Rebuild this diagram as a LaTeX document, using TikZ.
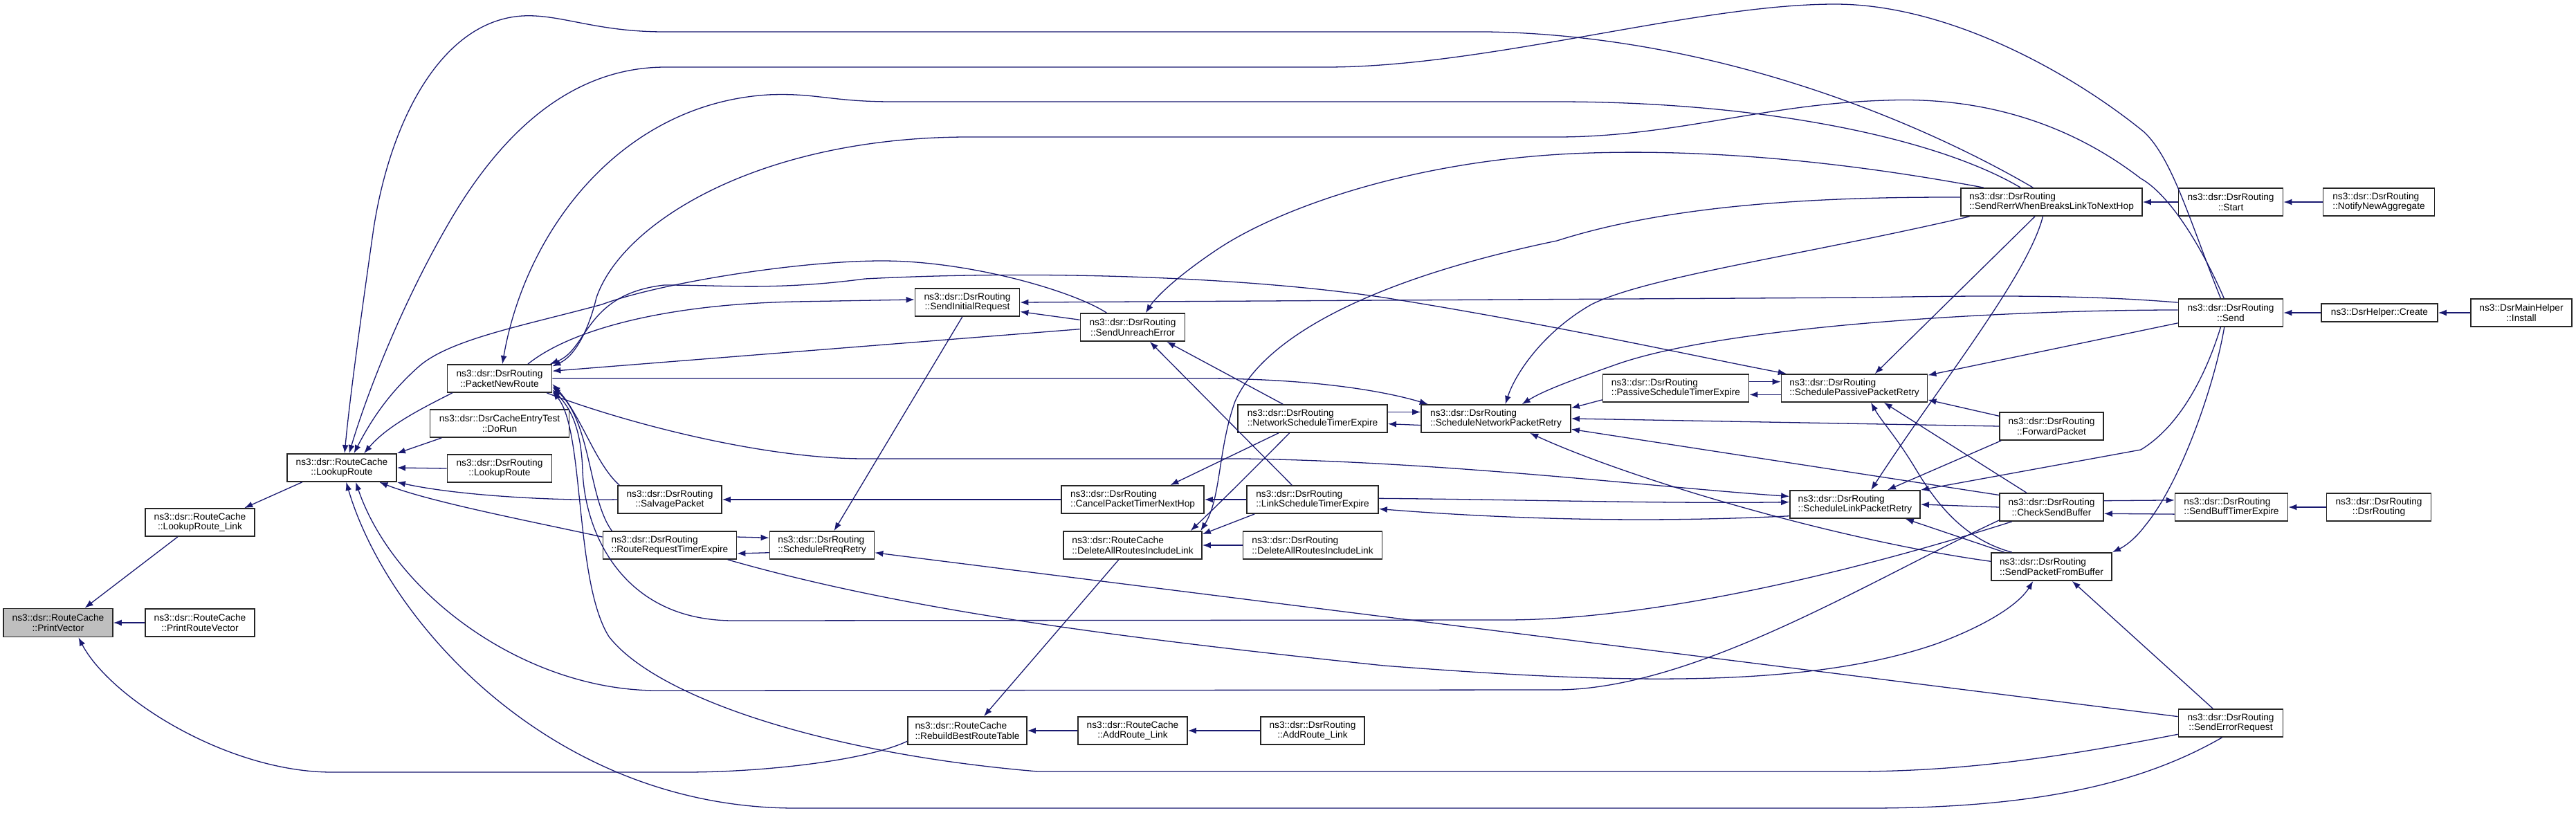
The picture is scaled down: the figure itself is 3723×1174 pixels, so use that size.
\documentclass[tikz,border=0pt]{standalone}
\usepackage{fontspec}
\setmainfont{Liberation Sans}
\usetikzlibrary{arrows.meta}
\definecolor{callblue}{HTML}{191970}
\definecolor{focusgray}{HTML}{BFBFBF}
\tikzset{>={Latex[length=0.36cm,width=0.27cm]},
  fn/.style={draw=black!85,line width=1.5pt,fill=white,minimum height=1.2cm,inner sep=0pt,align=center,font=\fontsize{11.7}{12.5}\selectfont},
  fnl/.style={fn,align=left},
  call/.style={->,draw=callblue,line width=1.1pt}}

\begin{document}
\begin{tikzpicture}[x=0.03cm,y=-0.03cm]
  \useasboundingbox (0,0) rectangle (3723,1174);
  % boxes
  \node[fn,fill=focusgray,minimum width=4.74cm,minimum height=1.23cm] (pv) at (84,900) {ns3::dsr::RouteCache\\::PrintVector};
  \node[fn,minimum width=4.74cm] (prv) at (289,900) {ns3::dsr::RouteCache\\::PrintRouteVector};
  \node[fn,minimum width=4.74cm] (lrl) at (289,755) {ns3::dsr::RouteCache\\::LookupRoute\_Link};
  \node[fn,minimum width=4.74cm] (lr) at (494,676) {ns3::dsr::RouteCache\\::LookupRoute};
  \node[fn,minimum width=4.53cm] (pnr) at (722,547) {ns3::dsr::DsrRouting\\::PacketNewRoute};
  \node[fn,minimum width=6.03cm] (dorun) at (722,612) {ns3::dsr::DsrCacheEntryTest\\::DoRun};
  \node[fn,minimum width=4.53cm] (dlr) at (722,677) {ns3::dsr::DsrRouting\\::LookupRoute};
  \node[fn,minimum width=4.5cm] (salv) at (968,722) {ns3::dsr::DsrRouting\\::SalvagePacket};
  \node[fnl,minimum width=5.79cm] (rrte) at (968,788) {ns3::dsr::DsrRouting\\::RouteRequestTimerExpire};
  \node[fnl,minimum width=4.53cm] (srr) at (1188,788) {ns3::dsr::DsrRouting\\::ScheduleRreqRetry};
  \node[fn,minimum width=4.53cm] (sir) at (1398,437) {ns3::dsr::DsrRouting\\::SendInitialRequest};
  \node[fnl,minimum width=5.16cm] (rbrt) at (1398,1056) {ns3::dsr::RouteCache\\::RebuildBestRouteTable};
  \node[fn,minimum width=4.53cm] (sue) at (1637,473) {ns3::dsr::DsrRouting\\::SendUnreachError};
  \node[fnl,minimum width=6.18cm] (cptnh) at (1637,722) {ns3::dsr::DsrRouting\\::CancelPacketTimerNextHop};
  \node[fnl,minimum width=6cm] (rcdel) at (1637,788) {ns3::dsr::RouteCache\\::DeleteAllRoutesIncludeLink};
  \node[fn,minimum width=4.74cm] (rcadd) at (1637,1056) {ns3::dsr::RouteCache\\::AddRoute\_Link};
  \node[fnl,minimum width=6.48cm] (nste) at (1897,605) {ns3::dsr::DsrRouting\\::NetworkScheduleTimerExpire};
  \node[fnl,minimum width=5.7cm] (lste) at (1897,722) {ns3::dsr::DsrRouting\\::LinkScheduleTimerExpire};
  \node[fnl,minimum width=6.03cm] (drdel) at (1897,788) {ns3::dsr::DsrRouting\\::DeleteAllRoutesIncludeLink};
  \node[fn,minimum width=4.5cm] (dradd) at (1897,1056) {ns3::dsr::DsrRouting\\::AddRoute\_Link};
  \node[fnl,minimum width=6.48cm] (snpr) at (2162,605) {ns3::dsr::DsrRouting\\::ScheduleNetworkPacketRetry};
  \node[fnl,minimum width=6.33cm] (pste) at (2422,561) {ns3::dsr::DsrRouting\\::PassiveScheduleTimerExpire};
  \node[fnl,minimum width=6.33cm] (sppr) at (2680,561) {ns3::dsr::DsrRouting\\::SchedulePassivePacketRetry};
  \node[fnl,minimum width=5.64cm] (slpr) at (2681,729) {ns3::dsr::DsrRouting\\::ScheduleLinkPacketRetry};
  \node[fnl,minimum width=7.86cm] (srwb) at (2965,292) {ns3::dsr::DsrRouting\\::SendRerrWhenBreaksLinkToNextHop};
  \node[fn,minimum width=4.5cm] (fwd) at (2965,616) {ns3::dsr::DsrRouting\\::ForwardPacket};
  \node[fn,minimum width=4.5cm] (csb) at (2965,733) {ns3::dsr::DsrRouting\\::CheckSendBuffer};
  \node[fnl,minimum width=5.22cm] (spfb) at (2965,819) {ns3::dsr::DsrRouting\\::SendPacketFromBuffer};
  \node[fn,minimum width=4.53cm] (start) at (3224,292) {ns3::dsr::DsrRouting\\::Start};
  \node[fn,minimum width=4.53cm] (send) at (3224,452) {ns3::dsr::DsrRouting\\::Send};
  \node[fnl,minimum width=4.89cm] (sbte) at (3225,733) {ns3::dsr::DsrRouting\\::SendBuffTimerExpire};
  \node[fn,minimum width=4.53cm] (ser) at (3224,1045) {ns3::dsr::DsrRouting\\::SendErrorRequest};
  \node[fnl,minimum width=4.83cm] (nna) at (3438,292) {ns3::dsr::DsrRouting\\::NotifyNewAggregate};
  \node[fn,minimum width=5.04cm,minimum height=0.78cm] (create) at (3439,452) {ns3::DsrHelper::Create};
  \node[fn,minimum width=4.53cm] (drdr) at (3438,733) {ns3::dsr::DsrRouting\\::DsrRouting};
  \node[fn,minimum width=4.38cm] (install) at (3644,452) {ns3::DsrMainHelper\\::Install};
  % calls into the left part
  \draw[call] (lrl.-147) -- (pv.29);
  \draw[call] (prv.west) -- (pv.east);
  \draw[call] (rbrt.-170) .. controls (1250,1100) and (1100,1116) .. (990,1116) -- (480,1116) .. controls (330,1116) and (160,1010) .. (pv.-36);
  \draw[call] (lr.-160) -- (lrl.18);
  \draw[call] (pnr.-163) .. controls (610,590) and (560,615) .. (lr.33);
  \draw[call] (dorun.-166) -- (lr.north east);
  \draw[call] (dlr.west) -- (lr.east);
  \draw[call] (salv.west) .. controls (800,724) and (660,716) .. (lr.south east);
  \draw[call] (rrte.173) .. controls (760,752) and (620,725) .. (lr.-21);
  \draw[call] (csb.-166) .. controls (2700,840) and (2450,996) .. (2250,997) -- (950,998) .. controls (760,998) and (570,860) .. (lr.-46);
  \draw[call] (ser.-121) .. controls (3100,1130) and (2950,1168) .. (2700,1168) -- (1150,1168) .. controls (800,1168) and (560,900) .. (lr.-73);
  \draw[call] (srwb.142) .. controls (2800,190) and (2500,52) .. (2150,46) -- (960,46) .. controls (860,46) and (810,20) .. (755,23) .. controls (640,30) and (565,170) .. (540,330) .. controls (520,470) and (505,580) .. (lr.79);
  \draw[call] (send.125) .. controls (3165,320) and (3140,230) .. (3099,191) .. controls (3000,110) and (2820,6) .. (2652,6) .. controls (2450,6) and (2150,97) .. (1917,97) -- (962,97) .. controls (820,97) and (720,200) .. (650,320) .. controls (580,440) and (530,570) .. (lr.63);
  \draw[call] (sue.151) .. controls (1550,420) and (1400,377) .. (1275,377) .. controls (1150,377) and (950,410) .. (870,440) .. controls (760,470) and (650,490) .. (605,530) .. controls (560,570) and (535,610) .. (lr.50);
  % calls into PacketNewRoute
  \draw[call] (srwb.155) .. controls (2800,200) and (2550,147) .. (2250,147) -- (1290,147) .. controls (1200,147) and (1180,134) .. (1110,137) .. controls (900,150) and (760,330) .. (pnr.79);
  \draw[call] (send.115) .. controls (3170,330) and (3125,275) .. (3094,258) .. controls (2980,170) and (2850,140) .. (2726,145) .. controls (2550,150) and (2420,198) .. (2250,198) -- (1400,198) .. controls (1100,198) and (900,320) .. (862,430) .. controls (850,480) and (830,515) .. (pnr.13);
  \draw[call,<->] (pnr.16) .. controls (850,505) and (845,425) .. (960,412) .. controls (1050,412) and (1120,420) .. (1250,403) .. controls (1500,390) and (1800,400) .. (2000,430) .. controls (2250,470) and (2450,515) .. (sppr.168);
  \draw[call] (sue.-178) -- (pnr.8);
  \draw[call] (salv.164) .. controls (860,670) and (840,600) .. (pnr.-6);
  \draw[call] (rrte.166) .. controls (850,720) and (855,610) .. (pnr.-9);
  \draw[call] (csb.-160) .. controls (2700,820) and (2400,896) .. (2175,896) -- (1060,897) .. controls (900,897) and (845,770) .. (842,680) .. controls (840,620) and (825,590) .. (pnr.-12);
  \draw[call] (ser.-168) .. controls (3000,1090) and (2850,1115) .. (2680,1115) -- (1500,1115) .. controls (1200,1090) and (950,1010) .. (880,920) .. controls (830,840) and (845,620) .. (pnr.-14);
  \draw[call] (pnr.27) .. controls (820,480) and (950,440) .. (1150,436) -- (sir.177);
  \draw[call] (pnr.east) -- (1750,547) .. controls (1900,548) and (2000,565) .. (snpr.168);
  \draw[call] (pnr.-17) .. controls (900,610) and (1100,663) .. (1250,663) -- (1800,663) .. controls (2100,668) and (2400,705) .. (slpr.173);
  % middle ranks
  \draw[call] (cptnh.west) -- (salv.east);
  \draw[call] (rrte.7) -- (srr.172);
  \draw[call] (srr.-172) -- (rrte.-7);
  \draw[call] (sir.-109) -- (srr.50);
  \draw[call] (ser.173) -- (srr.-8);
  \draw[call] (send.169) .. controls (3060,430) and (2950,425) .. (2700,430) -- (sir.east);
  \draw[call] (sue.172) -- (sir.-10);
  \draw[call] (srwb.168) .. controls (2700,240) and (2500,215) .. (2300,221) .. controls (2050,228) and (1850,300) .. (1760,360) .. controls (1700,400) and (1670,430) .. (sue.48);
  \draw[call] (nste.154) -- (sue.-23);
  \draw[call] (lste.145) -- (sue.-40);
  \draw[call] (nste.-157) -- (cptnh.21);
  \draw[call] (lste.west) -- (cptnh.east);
  \draw[call] (nste.-148) .. controls (1810,680) and (1770,720) .. (rcdel.14);
  \draw[call] (lste.-166) -- (rcdel.9);
  \draw[call] (srwb.177) .. controls (2600,284) and (2400,300) .. (2250,348) .. controls (2000,400) and (1830,480) .. (1785,580) .. controls (1760,650) and (1765,720) .. (rcdel.12);
  \draw[call] (drdel.west) -- (rcdel.east);
  \draw[call] (rcdel.-134) -- (rbrt.41);
  \draw[call] (rcadd.west) -- (rbrt.east);
  \draw[call] (dradd.west) -- (rcadd.east);
  % retry schedulers
  \draw[call] (nste.5) -- (snpr.175);
  \draw[call] (snpr.-175) -- (nste.-4);
  \draw[call] (srwb.-170) .. controls (2600,370) and (2380,400) .. (2300,440) .. controls (2230,480) and (2190,540) .. (snpr.57);
  \draw[call] (send.177) .. controls (2900,448) and (2500,470) .. (2338,526) .. controls (2270,550) and (2230,565) .. (snpr.29);
  \draw[call] (pste.-171) -- (snpr.8);
  \draw[call] (fwd.west) -- (snpr.east);
  \draw[call] (csb.167) -- (snpr.-8);
  \draw[call] (spfb.175) .. controls (2650,780) and (2350,690) .. (snpr.-23);
  \draw[call] (pste.5) -- (sppr.175);
  \draw[call] (sppr.-175) -- (pste.-5);
  \draw[call] (srwb.-139) -- (sppr.35);
  \draw[call] (send.-169) -- (sppr.10);
  \draw[call] (fwd.169) -- (sppr.-9);
  \draw[call] (csb.150) -- (sppr.-26);
  \draw[call] (spfb.160) .. controls (2840,780) and (2800,730) .. (2770,680) .. controls (2740,630) and (2720,610) .. (sppr.-41);
  \draw[call] (lste.1) .. controls (2200,722) and (2400,728) .. (slpr.178);
  \draw[call] (slpr.-170) .. controls (2400,755) and (2200,752) .. (lste.-8);
  \draw[call] (srwb.-121) .. controls (2930,400) and (2800,560) .. (slpr.42);
  \draw[call] (fwd.-164) -- (slpr.24);
  \draw[call] (send.-125) .. controls (3195,520) and (3160,610) .. (3094,650) -- (slpr.north east);
  \draw[call] (csb.west) -- (slpr.east);
  \draw[call] (spfb.163) -- (slpr.-16);
  % right part
  \draw[call] (start.west) -- (srwb.east);
  \draw[call] (nna.west) -- (start.east);
  \draw[call] (create.west) -- (send.east);
  \draw[call] (install.west) -- (create.east);
  \draw[call] (csb.7) -- (sbte.173);
  \draw[call] (sbte.-173) -- (csb.-7);
  \draw[call] (drdr.west) -- (sbte.east);
  \draw[call] (send.-114) .. controls (3200,560) and (3150,700) .. (3100,760) .. controls (3085,780) and (3070,790) .. (spfb.north east);
  \draw[call] (rrte.-14) .. controls (1300,880) and (1600,920) .. (2000,962) .. controls (2300,985) and (2600,1000) .. (2800,930) .. controls (2880,900) and (2920,870) .. (spfb.-142);
  \draw[call] (ser.141) -- (spfb.-35);
\end{tikzpicture}
\end{document}
